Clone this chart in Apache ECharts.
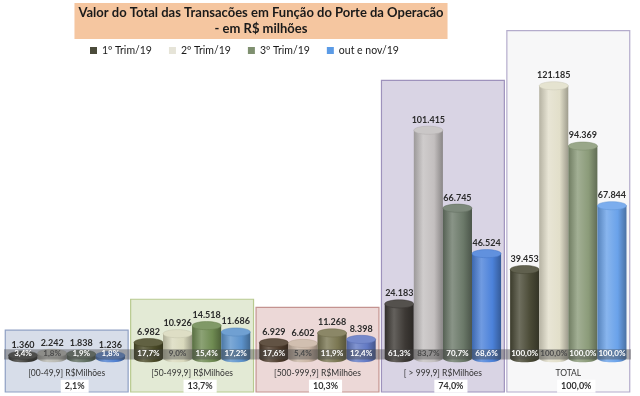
<!DOCTYPE html>
<html>
<head>
<meta charset="utf-8">
<script src="https://cdn.jsdelivr.net/npm/echarts@6/dist/echarts.min.js"></script>
<style>
  html, body { margin: 0; padding: 0; background: #ffffff; }
  #main { width: 640px; height: 396px; }
</style>
</head>
<body>
<div id="main"></div>
<script>
var categories = ['[00-49,9] R$Milhões', '[50-499,9] R$Milhões', '[500-999,9] R$Milhões', '[ > 999,9] R$Milhões', 'TOTAL']
var shareLabels = ['2,1%', '13,7%', '10,3%', '74,0%', '100,0%']
var quarters = ['1º Trim/19', '2º Trim/19', '3º Trim/19', 'out e nov/19']

var trim1 = [1.360, 6.982, 6.929, 24.183, 39.453]
var trim2 = [2.242, 10.926, 6.602, 101.415, 121.185]
var trim3 = [1.838, 14.518, 11.268, 66.745, 94.369]
var outNov = [1.236, 11.686, 8.398, 46.524, 67.844]

var pct1 = ['3,4%', '17,7%', '17,6%', '61,3%', '100,0%']
var pct2 = ['1,8%', '9,0%', '5,4%', '83,7%', '100,0%']
var pct3 = ['1,9%', '15,4%', '11,9%', '70,7%', '100,0%']
var pct4 = ['1,8%', '17,2%', '12,4%', '68,6%', '100,0%']

var values = [trim1, trim2, trim3, outNov]
var pcts = [pct1, pct2, pct3, pct4]

// colours, one row per group (the excel chart recolours each group)
var legendColors = ['#4b4b3a', '#e6e4d8', '#7f9070', '#5b9be6']
var barColors = [
  ['#3c3c38', '#b9b9b2', '#5f6e60', '#4f7fd0'],
  ['#4b4b28', '#d9d9bd', '#6f8b52', '#5d93cc'],
  ['#4d3b2b', '#cbb6a5', '#7b7752', '#6279c4'],
  ['#3d3935', '#c3bfbf', '#6b7969', '#4c82da'],
  ['#4a4a36', '#e2dfca', '#8b9b79', '#6aa2ea']
]
var boxFill = ['#d7dde9', '#e3ead5', '#ecd8d7', '#d9d4e4', '#f7f7f8']
var boxLine = ['#8fa0c4', '#b8ca90', '#c49390', '#9e92bc', '#b4accc']

function mix (hex, t) {
  var n = parseInt(hex.slice(1), 16)
  var rgb = [n >> 16, (n >> 8) & 255, n & 255].map(function (c) {
    return Math.round(t > 0 ? c + (255 - c) * t : c * (1 + t))
  })
  return 'rgb(' + rgb.join(',') + ')'
}

function cylinder (s) {
  return function (params, api) {
    var ci = api.value(0)
    var v = api.value(1)
    var band = api.size([1, 0])[0]
    var w = band * 0.232
    var base = api.coord([ci, 0])
    var top = api.coord([ci, v])
    var cx = base[0] + (s - 1.5) * w
    var ry = w * 0.14
    var c = barColors[ci][s]
    var body = {
      type: 'linear', x: 0, y: 0, x2: 1, y2: 0,
      colorStops: [
        {offset: 0, color: mix(c, -0.2)},
        {offset: 0.32, color: mix(c, 0.2)},
        {offset: 0.7, color: c},
        {offset: 1, color: mix(c, -0.3)}
      ]
    }
    return {
      type: 'group',
      children: [
        {type: 'rect', shape: {x: cx - w / 2, y: top[1], width: w, height: base[1] - top[1]}, style: {fill: body}},
        {type: 'ellipse', shape: {cx: cx, cy: base[1], rx: w / 2, ry: ry}, style: {fill: body}},
        {type: 'ellipse', shape: {cx: cx, cy: top[1], rx: w / 2, ry: ry}, style: {fill: mix(c, 0.12), stroke: mix(c, -0.1), lineWidth: 0.5}},
        {
          type: 'text',
          x: cx,
          y: top[1] - ry - 2,
          style: {text: v.toFixed(3), align: 'center', verticalAlign: 'bottom', fontSize: 9, fontWeight: 'bold', fill: '#2b2b2b', fontFamily: 'Lato'}
        }
      ]
    }
  }
}

function groupBox (params, api) {
  var ci = api.value(0)
  var band = api.size([1, 0])[0]
  var tl = api.coord([ci, api.value(1)])
  var bottom = api.coord([ci, -15])
  var base = api.coord([ci, 0])
  var w = band * 0.98
  return {
    type: 'group',
    children: [
      {type: 'rect', shape: {x: tl[0] - w / 2, y: tl[1], width: w, height: bottom[1] - tl[1]}, style: {fill: boxFill[ci], stroke: boxLine[ci], lineWidth: 1.2}},
      {
        type: 'text', x: tl[0], y: base[1] + 15,
        style: {text: categories[ci], align: 'center', verticalAlign: 'middle', fontSize: 8.5, fill: '#333333', fontFamily: 'Lato'}
      },
      {
        type: 'text', x: tl[0] + 8, y: base[1] + 28,
        style: {
          text: shareLabels[ci], align: 'center', verticalAlign: 'middle', fontSize: 9, fontWeight: 'bold', fill: '#333333', fontFamily: 'Lato',
          backgroundColor: '#ffffff', padding: [2, 4]
        }
      }
    ]
  }
}

function floorBand (params, api) {
  var ci = api.value(0)
  var band = api.size([1, 0])[0]
  var hi = api.coord([ci, 4])
  var lo = api.coord([ci, -0.5])
  var w = band * 0.232
  var children = [
    {type: 'rect', shape: {x: hi[0] - band / 2, y: hi[1], width: band, height: lo[1] - hi[1]}, style: {fill: 'rgba(70,70,70,0.42)'}}
  ]
  for (var s = 0; s < 4; s++) {
    children.push({
      type: 'text',
      x: hi[0] + (s - 1.5) * w,
      y: (hi[1] + lo[1]) / 2 - 1,
      style: {
        text: pcts[s][ci], align: 'center', verticalAlign: 'middle', fontSize: 8, fontWeight: 'bold',
        fill: s === 1 ? '#4a4a4a' : '#ffffff', fontFamily: 'Lato'
      }
    })
  }
  return {type: 'group', children: children}
}

var boxData = categories.map(function (c, i) {
  var m = Math.max(trim1[i], trim2[i], trim3[i], outNov[i])
  return [i, m * 1.12 + 10]
})

var series = [{
  name: 'box',
  type: 'custom',
  z: 1,
  silent: true,
  renderItem: groupBox,
  encode: {x: 0, y: 1},
  data: boxData
}]
quarters.forEach(function (q, s) {
  series.push({
    name: q,
    type: 'custom',
    z: 2,
    renderItem: cylinder(s),
    itemStyle: {color: legendColors[s]},
    encode: {x: 0, y: 1},
    data: values[s].map(function (v, i) { return [i, v] })
  })
})
series.push({
  name: 'floor',
  type: 'custom',
  z: 3,
  silent: true,
  renderItem: floorBand,
  encode: {x: 0, y: 1},
  data: categories.map(function (c, i) { return [i, 0] })
})

var myChart = echarts.init(document.getElementById('main'))
myChart.setOption({
  animation: false,
  textStyle: {fontFamily: 'Lato'},
  title: {
    text: 'Valor do Total das Transacões em Função do Porte da Operacão\n- em R$ milhões',
    left: 257,
    top: 3,
    textAlign: 'center',
    backgroundColor: '#f5c6a0',
    padding: [2, 4],
    textStyle: {fontSize: 13, fontWeight: 'bold', color: '#1a1a1a', lineHeight: 16, fontFamily: 'Lato'}
  },
  legend: {
    data: quarters,
    left: 85,
    top: 40,
    icon: 'rect',
    itemWidth: 7,
    itemHeight: 7,
    itemGap: 17,
    textStyle: {fontSize: 10.5, color: '#1a1a1a', fontFamily: 'Lato'}
  },
  grid: {left: 4, right: 9, top: 21, bottom: 4},
  xAxis: {type: 'category', data: categories, show: false},
  yAxis: {type: 'value', min: -15, max: 150, show: false},
  series: series
})
</script>
</body>
</html>
